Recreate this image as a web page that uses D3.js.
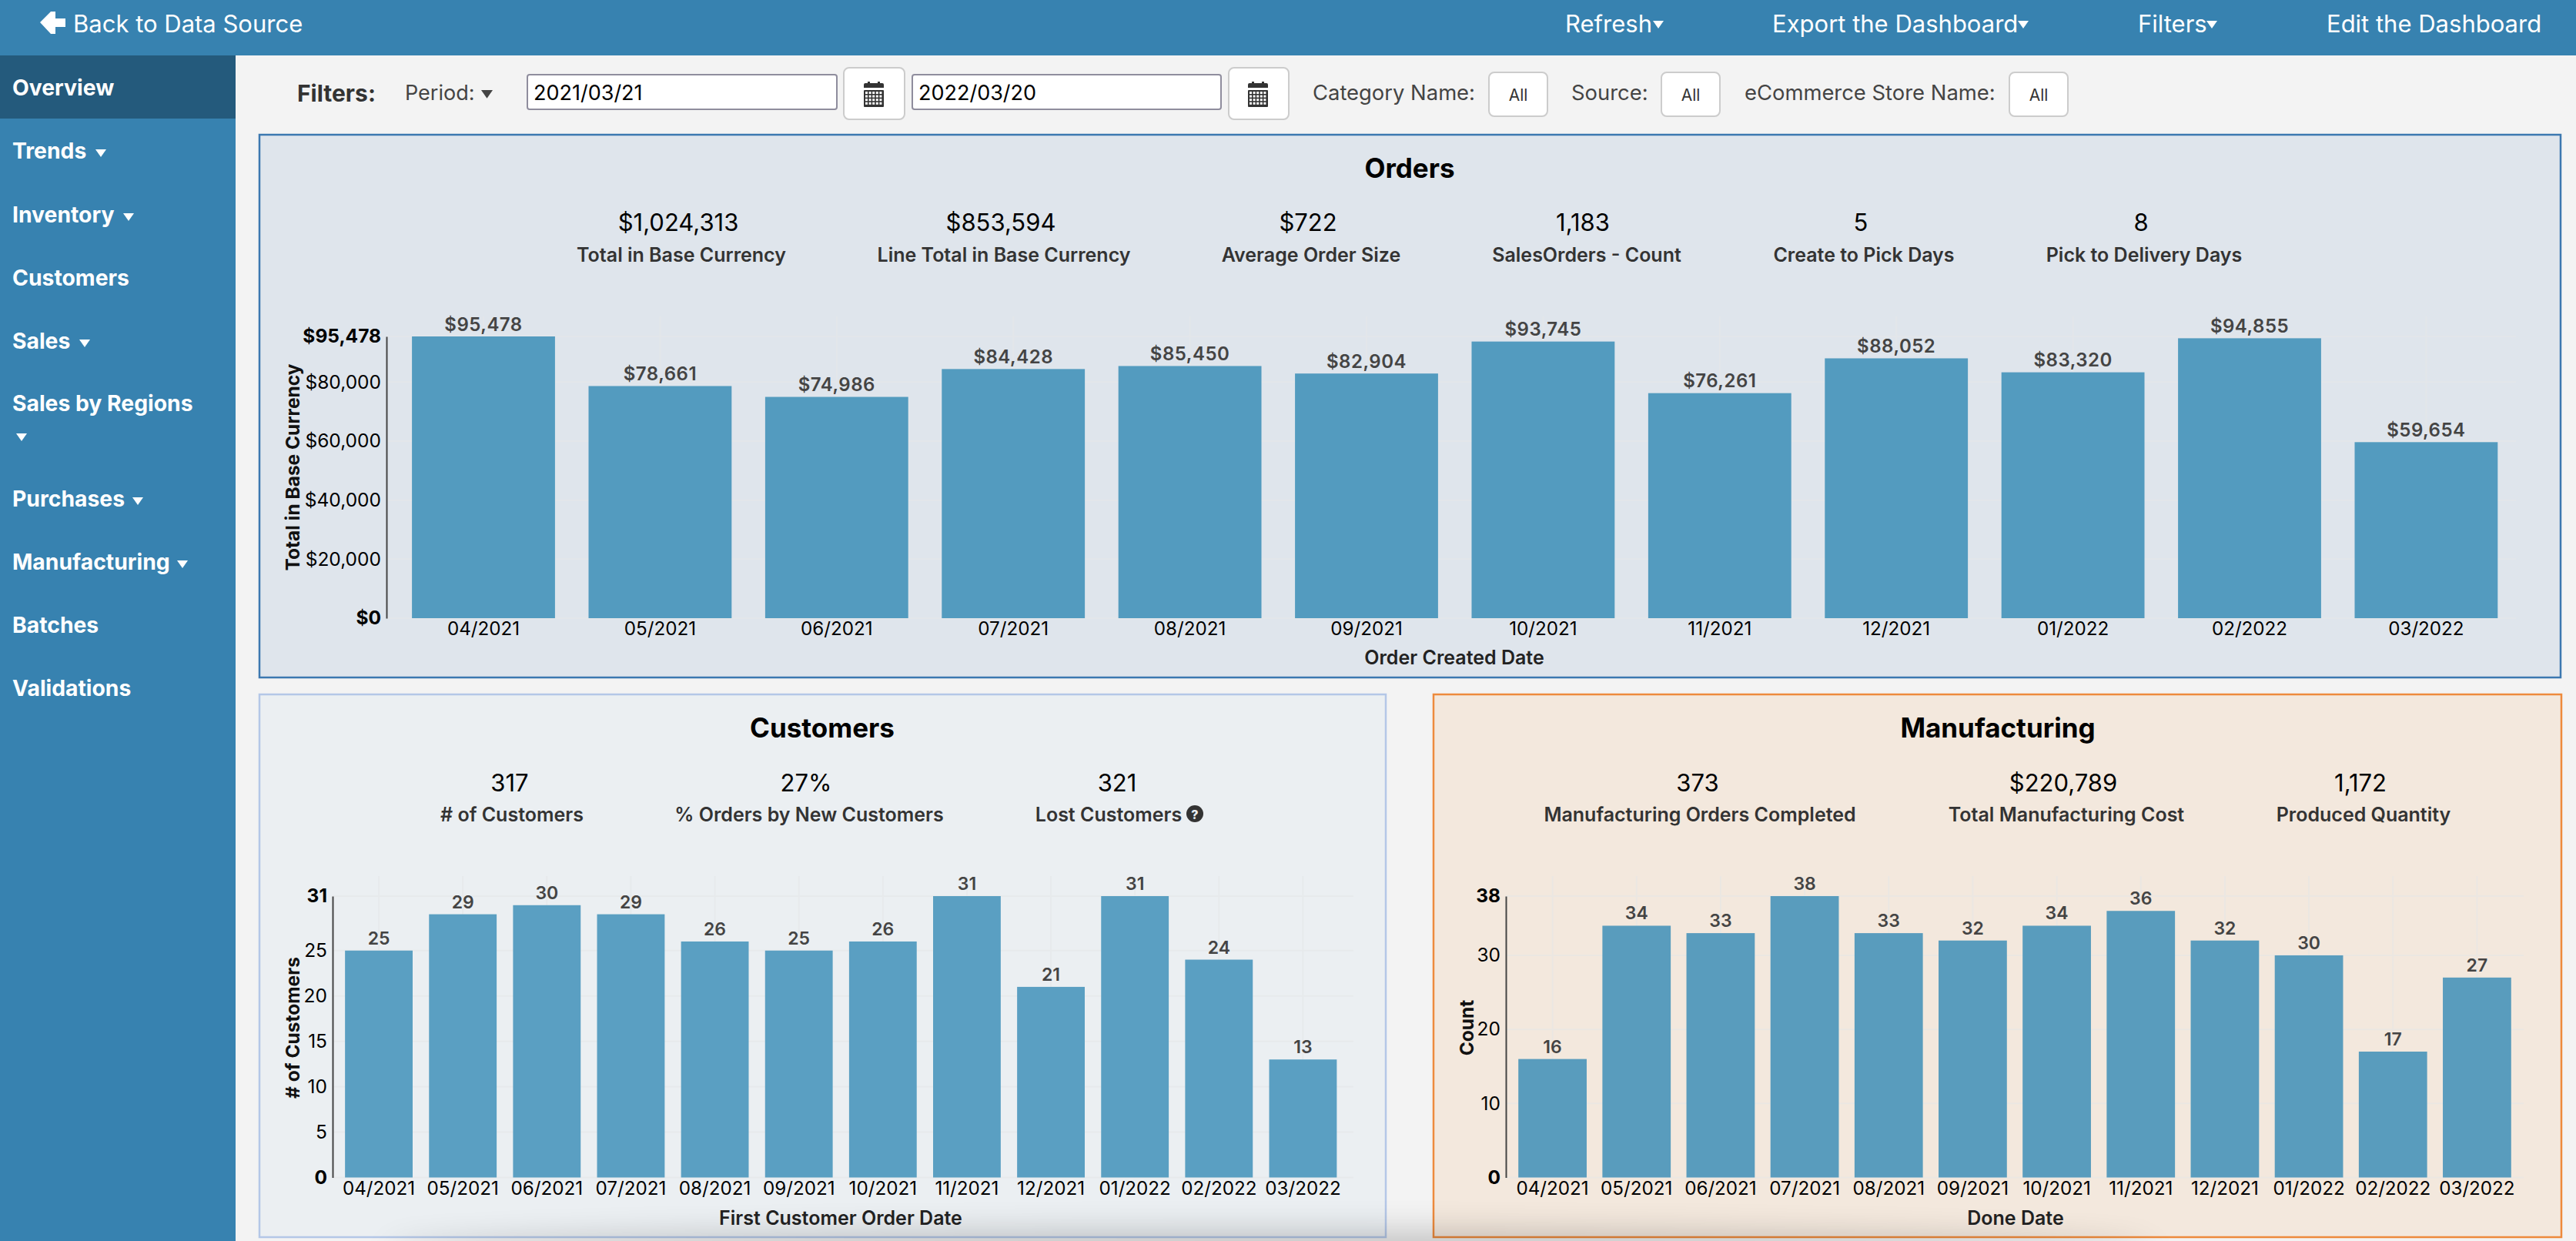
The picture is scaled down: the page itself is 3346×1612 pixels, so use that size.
<!DOCTYPE html>
<html><head><meta charset="utf-8">
<script src="https://cdn.jsdelivr.net/npm/d3@7"></script>
<style>
html,body{margin:0;padding:0;background:#f3f3f3;overflow:hidden}
svg{display:block;font-family:Inter,"Noto Sans",sans-serif}
.domain{stroke:#444;stroke-width:2}
</style></head><body>
<div id="app"></div>
<script>
const months=["04/2021","05/2021","06/2021","07/2021","08/2021","09/2021","10/2021","11/2021","12/2021","01/2022","02/2022","03/2022"];
const orderTotals=[95478,78661,74986,84428,85450,82904,93745,76261,88052,83320,94855,59654];
const customerCounts=[25,29,30,29,26,25,26,31,21,31,24,13];
const manufacturingCounts=[16,34,33,38,33,32,34,36,32,30,17,27];
const orderTicks=[0,20000,40000,60000,80000,95478];
const customerTicks=[0,5,10,15,20,25,31];
const manufacturingTicks=[0,10,20,30,38];
const sideMenu=["Overview","Trends","Inventory","Customers","Sales","Sales by Regions","Purchases","Manufacturing","Batches","Validations"];
const orderKpiValues=["$1,024,313","$853,594","$722","1,183","5","8"];
const orderKpiLabels=["Total in Base Currency","Line Total in Base Currency","Average Order Size","SalesOrders - Count","Create to Pick Days","Pick to Delivery Days"];
const customerKpiValues=["317","27%","321"];
const customerKpiLabels=["# of Customers","% Orders by New Customers","Lost Customers"];
const manufacturingKpiValues=["373","$220,789","1,172"];
const manufacturingKpiLabels=["Manufacturing Orders Completed","Total Manufacturing Cost","Produced Quantity"];

const svg=d3.select("#app").append("svg").attr("width",3346).attr("height",1612).attr("viewBox","0 0 3346 1612");
const defs=svg.append("defs");
defs.append("filter").attr("id","blur").attr("x","-20%").attr("y","-300%").attr("width","140%").attr("height","700%")
  .append("feGaussianBlur").attr("stdDeviation",22);

function txt(x,y,s,o={}){
  return svg.append("text").attr("x",x).attr("y",y).attr("dominant-baseline","central")
    .attr("text-anchor",o.anchor||"start").attr("font-size",o.size||26).attr("font-weight",o.weight||400)
    .attr("fill",o.fill||"#333").attr("letter-spacing",o.ls||null).text(s);
}
function caret(x,y,w,fill){
  svg.append("path").attr("d",`M${x},${y}h${w}l${-w/2},${w*0.72}z`).attr("fill",fill);
}
function calendar(cx,cy){
  const g=svg.append("g").attr("transform",`translate(${cx},${cy})`).attr("fill","#333");
  g.append("path").attr("d","M-13,-8v-4a2,2 0 0 1 2,-2h3v-2h3v2h10v-2h3v2h3a2,2 0 0 1 2,2v4z");
  g.append("rect").attr("x",-13).attr("y",-5).attr("width",26).attr("height",22).attr("rx",1);
  for(let r=0;r<4;r++)for(let c=0;c<5;c++)
    g.append("rect").attr("x",-11+c*4.6).attr("y",-3+r*4.6).attr("width",3).attr("height",3).attr("fill","#fff");
}
function button(x0,x1,y0,y1){
  svg.append("rect").attr("x",x0).attr("y",y0).attr("width",x1-x0).attr("height",y1-y0).attr("rx",7)
    .attr("fill","#fff").attr("stroke","#ccc").attr("stroke-width",2);
}

// chrome
svg.append("rect").attr("width",3346).attr("height",1612).attr("fill","#f3f3f3");
svg.append("rect").attr("width",3346).attr("height",72).attr("fill","#3782b0");
svg.append("rect").attr("y",72).attr("width",306).attr("height",1540).attr("fill","#3782b0");
svg.append("rect").attr("y",72).attr("width",306).attr("height",82).attr("fill","#245a7c");

svg.append("path").attr("d","M52,29l14,-14h6v9h13v11h-13v9h-6z").attr("fill","#fff");
txt(95,30,"Back to Data Source",{size:31,fill:"#fff"});
txt(2033,30,"Refresh",{size:31,fill:"#fff"}); caret(2147,27,14,"#fff");
txt(2302,30,"Export the Dashboard",{size:31,fill:"#fff"}); caret(2621,27,14,"#fff");
txt(2777,30,"Filters",{size:31,fill:"#fff"}); caret(2866,27,14,"#fff");
txt(3022,30,"Edit the Dashboard",{size:31,fill:"#fff"});

const sideY=[114,196,279,361,443,524,648,730,812,894];
const sideCaretX=[null,124,160,null,103,null,172,230,null,null];
sideMenu.forEach((s,i)=>{
  txt(16,sideY[i],s,{size:28.3,weight:700,fill:"#fff"});
  if(sideCaretX[i]) caret(sideCaretX[i],sideY[i]-2,14,"#fff");
});
caret(21,563,14,"#fff");

// filters
txt(386,121,"Filters:",{size:30,weight:700,fill:"#333"});
txt(526,120,"Period:",{size:27,fill:"#444"}); caret(625,117,15,"#444");
[[685,1087,"2021/03/21"],[1185,1586,"2022/03/20"]].forEach(d=>{
  svg.append("rect").attr("x",d[0]).attr("y",97).attr("width",d[1]-d[0]).attr("height",45).attr("rx",3)
    .attr("fill","#fff").attr("stroke","#8f8d9d").attr("stroke-width",2);
  txt(d[0]+8,120,d[2],{size:27,fill:"#000"});
});
button(1096,1175,88,155); calendar(1135,122);
button(1596,1674,88,155); calendar(1634,122);
txt(1705,120,"Category Name:",{size:27.4,fill:"#444"});
button(1934,2010,94,151); txt(1972,123,"All",{anchor:"middle",size:21});
txt(2041,120,"Source:",{size:27.4,fill:"#444"});
button(2158,2234,94,151); txt(2196,123,"All",{anchor:"middle",size:21});
txt(2266,120,"eCommerce Store Name:",{size:27.4,fill:"#444"});
button(2610,2686,94,151); txt(2648,123,"All",{anchor:"middle",size:21});

function panel(x0,x1,y0,y1,fill,stroke){
  svg.append("rect").attr("x",x0).attr("y",y0).attr("width",x1-x0).attr("height",y1-y0)
    .attr("fill",fill).attr("stroke",stroke).attr("stroke-width",2.5);
}
function kpis(values,labels,vx,lx,vy,ly){
  values.forEach((v,i)=>txt(vx[i],vy,v,{anchor:"middle",size:31,fill:"#000"}));
  labels.forEach((l,i)=>txt(lx[i],ly,l,{anchor:"middle",size:25,weight:600,fill:"#333"}));
}
function chart(c){
  const x=d3.scaleBand().domain(months).range([c.x0,c.x1]).paddingInner(c.pad).paddingOuter(c.pad/2);
  const y=d3.scaleLinear().domain([0,d3.max(c.ticks)]).range([c.yBottom,c.yTop]);
  const g=svg.append("g");
  // grid
  g.append("g").selectAll("line").data(c.ticks).join("line")
    .attr("x1",c.axisX).attr("x2",c.gridRight).attr("y1",d=>y(d)).attr("y2",d=>y(d))
    .attr("stroke",c.grid).attr("stroke-width",2);
  g.append("g").selectAll("line").data(months).join("line")
    .attr("x1",d=>x(d)+x.bandwidth()/2).attr("x2",d=>x(d)+x.bandwidth()/2)
    .attr("y1",c.yTop-26).attr("y2",c.yBottom).attr("stroke",c.grid).attr("stroke-width",2);
  // bars
  g.append("g").selectAll("rect").data(c.values).join("rect")
    .attr("x",(d,i)=>x(months[i])).attr("width",x.bandwidth())
    .attr("y",d=>y(d)).attr("height",d=>c.yBottom-y(d)).attr("fill",c.bar);
  // value labels
  g.append("g").selectAll("text").data(c.values).join("text")
    .attr("x",(d,i)=>x(months[i])+x.bandwidth()/2).attr("y",d=>y(d)-16)
    .attr("text-anchor","middle").attr("dominant-baseline","central")
    .attr("font-size",c.valueSize).attr("font-weight",600).attr("fill","#444").attr("letter-spacing",c.valueLs||null)
    .text(d=>c.fmt(d));
  // axes
  const ya=g.append("g").attr("transform",`translate(${c.axisX},0)`)
    .call(d3.axisLeft(y).tickValues(c.ticks).tickFormat(c.fmt).tickSize(0).tickPadding(7));
  ya.selectAll("text").attr("font-size",24.5).attr("font-family","Inter").attr("fill","#000")
    .attr("font-weight",d=>(d===0||d===d3.max(c.ticks))?700:400);
  const xa=g.append("g").attr("transform",`translate(0,${c.yBottom})`)
    .call(d3.axisBottom(x).tickSize(0).tickPadding(5));
  xa.select(".domain").remove();
  xa.selectAll("text").attr("font-size",24.2).attr("font-family","Inter").attr("fill","#000");
  txt(c.titleX,c.titleY,c.xTitle,{anchor:"middle",size:25,weight:600,fill:"#222"});
  svg.append("text").attr("transform",`translate(${c.yTitleX},${c.yTitleY}) rotate(-90)`)
    .attr("text-anchor","middle").attr("dominant-baseline","central").attr("font-size",24.5).attr("font-weight",700).attr("fill","#111").text(c.yTitle);
}

// Orders
panel(337,3326,175,880,"#dfe5ec","#3c78b0");
txt(1831,218,"Orders",{anchor:"middle",size:35,weight:700,fill:"#000"});
kpis(orderKpiValues,orderKpiLabels,[881,1300,1699,2056,2417,2781],[885,1304,1703,2061,2421,2785],288,331);
chart({x0:513.3,x1:3266.1,pad:0.19,yTop:437,yBottom:803,axisX:502,gridRight:3268,values:orderTotals,ticks:orderTicks,
  fmt:d3.format("$,"),bar:"#539bbf",grid:"#e3e6ea",valueSize:24,valueLs:"0.5px",xTitle:"Order Created Date",titleX:1889,titleY:854,yTitle:"Total in Base Currency",yTitleX:380,yTitleY:607});

// Customers
panel(337,1800,902,1607,"#ebeff2","#b4c7e7");
txt(1068,945,"Customers",{anchor:"middle",size:35,weight:700,fill:"#000"});
kpis(customerKpiValues,customerKpiLabels,[662,1047,1451],[665,1051,1440],1016,1058);
chart({x0:437.5,x1:1747,pad:0.195,yTop:1164,yBottom:1529.5,axisX:432,gridRight:1758,values:customerCounts,ticks:customerTicks,
  fmt:d3.format("d"),bar:"#5a9fc2",grid:"#e7eaec",valueSize:23,xTitle:"First Customer Order Date",titleX:1092,titleY:1582,yTitle:"# of Customers",yTitleX:380,yTitleY:1335});
svg.append("circle").attr("cx",1552).attr("cy",1057).attr("r",11).attr("fill","#333");
svg.append("text").attr("x",1552).attr("y",1058).attr("text-anchor","middle").attr("dominant-baseline","central")
  .attr("font-size",16).attr("font-weight",800).attr("fill","#ebeff2").text("?");

// Manufacturing
panel(1862,3327,902,1607,"#f3e8dd","#ed8a3c");
txt(2595,945,"Manufacturing",{anchor:"middle",size:35,weight:700,fill:"#000"});
kpis(manufacturingKpiValues,manufacturingKpiLabels,[2205,2680,3066],[2208,2684,3070],1016,1058);
chart({x0:1962,x1:3272,pad:0.187,yTop:1164,yBottom:1529.5,axisX:1956,gridRight:3278,values:manufacturingCounts,ticks:manufacturingTicks,
  fmt:d3.format("d"),bar:"#599cbd",grid:"#ebe7e2",valueSize:23,xTitle:"Done Date",titleX:2618,titleY:1582,yTitle:"Count",yTitleX:1905,yTitleY:1335});

// soft shadow along the bottom edge of the screenshot
svg.append("ellipse").attr("cx",1650).attr("cy",1628).attr("rx",1150).attr("ry",26)
  .attr("fill","#000").attr("opacity",0.22).attr("filter","url(#blur)");
</script></body></html>
